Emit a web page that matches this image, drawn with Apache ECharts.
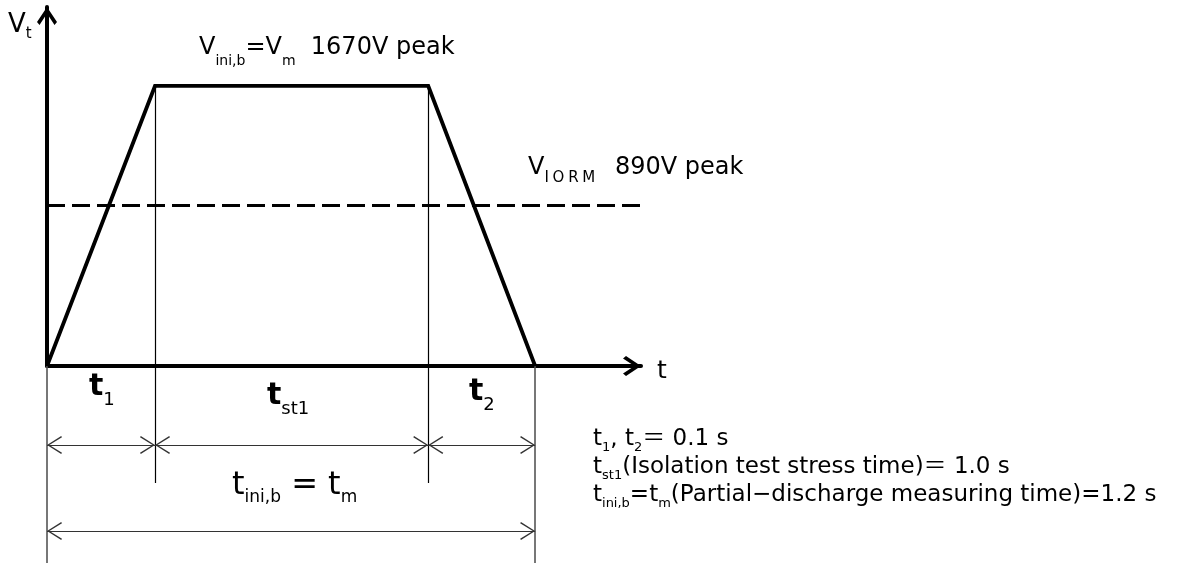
<!DOCTYPE html>
<html>
<head>
<meta charset="utf-8">
<script src="https://cdn.jsdelivr.net/npm/echarts@6/dist/echarts.min.js"></script>
<style>
  html, body { margin: 0; padding: 0; background: #fff; }
  #chart { width: 1181px; height: 563px; }
</style>
</head>
<body>
<div id="chart"></div>
<script>
// ---- data (schematic waveform) ----
// horizontal positions of the waveform corners in diagram units: start, end of t1, end of tst1, end of t2
const timeMarks = [0, 1.0, 3.53, 4.52];
// test voltage at those corners (V peak)
const voltage = [0, 1670, 1670, 0];
// level at which the VIORM (890 V peak) line is drawn in the schematic
const vIormLevel = 960;
// text content
const peakLabel = ['V', 'ini,b', '=V', 'm', '  1670V peak'];
const iormLabel = ['V', 'I\u2005O\u2005R\u2005M', '\u2002 890V peak'];
const noteLines = [
  [['t', 'm'], ['1', 's'], [', t', 'm'], ['2', 's'], ['\uFF1D 0.1 s', 'm']],
  [['t', 'm'], ['st1', 's'], ['(Isolation test stress time)\uFF1D 1.0 s', 'm']],
  [['t', 'm'], ['ini,b', 's'], ['=t', 'm'], ['m', 's'], ['(Partial\u2212discharge measuring time)=1.2 s', 'm']]
];

// ---- layout constants ----
const X_MAX = 5.5;
const Y_MIN = -1175, Y_MAX = 2111;
const ROW1 = -471, ROW2 = -984, TICK_BOTTOM = -698;
const FONT = "'DejaVu Sans','Noto Sans CJK JP',sans-serif";
const CHEV_AXIS = 'path://M10 0 L20 15 L17.5 18 L10 6.5 L2.5 18 L0 15 Z';
const CHEV_DIM = 'path://M9 0 L18 14.2 L16.8 15 L9 2.4 L1.2 15 L0 14.2 Z';

const wave = timeMarks.map((t, i) => [t, voltage[i]]);

function tok(size, weight, pad, lh) {
  const s = { fontSize: size, fontFamily: FONT, fontWeight: weight || 'normal', fill: '#000', verticalAlign: 'top' };
  if (pad) s.padding = [pad, 0, 0, 0];
  if (lh) s.lineHeight = lh;
  return s;
}
function richText(parts) {
  return parts.map(p => '{' + p[1] + '|' + p[0] + '}').join('');
}
function label(x, y, parts, rich) {
  return { type: 'text', x: x, y: y, silent: true, style: { text: richText(parts), rich: rich, align: 'left', verticalAlign: 'top' } };
}

const thinV = { color: '#000', width: 1.2, type: 'solid' };
const outerV = { color: '#555', width: 1.6, type: 'solid' };
const dimStyle = { color: '#333', width: 1.1, type: 'solid' };

function seg(a, b, style) {
  return [{ coord: a, lineStyle: style, symbol: 'none' }, { coord: b, lineStyle: style, symbol: 'none' }];
}
function dim(a, b) {
  return [
    { coord: a, lineStyle: dimStyle, symbol: CHEV_DIM, symbolSize: [18, 15], symbolOffset: [0, 7.5] },
    { coord: b, lineStyle: dimStyle, symbol: CHEV_DIM, symbolSize: [18, 15], symbolOffset: [0, 7.5] }
  ];
}

const chart = echarts.init(document.getElementById('chart'), null, { renderer: 'canvas' });

const option = {
  animation: false,
  backgroundColor: '#fff',
  grid: [
    { left: 47, right: 540, top: 12, bottom: 0 },
    { left: 47, right: 540, top: 7, bottom: 197 }
  ],
  xAxis: [
    {
      gridIndex: 0, type: 'value', min: 0, max: X_MAX,
      axisLine: { show: true, onZero: true, lineStyle: { color: '#000', width: 4 },
        symbol: ['none', CHEV_AXIS], symbolSize: [20, 18], symbolOffset: [0, -9] },
      axisTick: { show: false }, axisLabel: { show: false }, splitLine: { show: false }
    },
    { gridIndex: 1, type: 'value', min: 0, max: X_MAX, show: false }
  ],
  yAxis: [
    { gridIndex: 0, type: 'value', min: Y_MIN, max: Y_MAX, show: false },
    {
      gridIndex: 1, type: 'value', min: 0, max: 1,
      axisLine: { show: true, onZero: true, lineStyle: { color: '#000', width: 4 },
        symbol: ['none', CHEV_AXIS], symbolSize: [20, 18], symbolOffset: [0, -9] },
      axisTick: { show: false }, axisLabel: { show: false }, splitLine: { show: false }
    }
  ],
  series: [
    {
      type: 'line', xAxisIndex: 0, yAxisIndex: 0, data: wave,
      symbol: 'none', showSymbol: false, silent: true, z: 5,
      lineStyle: { color: '#000', width: 3.8, join: 'miter' },
      markLine: {
        silent: true, animation: false, symbol: ['none', 'none'],
        label: { show: false }, emphasis: { disabled: true },
        data: [
          [{ coord: [0, vIormLevel], symbol: 'none', lineStyle: { color: '#000', width: 3.2, type: [18, 7] } },
           { coord: [X_MAX, vIormLevel], symbol: 'none', lineStyle: { color: '#000', width: 3.2, type: [18, 7] } }],
          seg([timeMarks[1], voltage[1]], [timeMarks[1], TICK_BOTTOM], thinV),
          seg([timeMarks[2], voltage[2]], [timeMarks[2], TICK_BOTTOM], thinV),
          seg([timeMarks[0], 0], [timeMarks[0], Y_MIN], outerV),
          seg([timeMarks[3], 0], [timeMarks[3], Y_MIN], outerV),
          dim([timeMarks[0], ROW1], [timeMarks[1], ROW1]),
          dim([timeMarks[1], ROW1], [timeMarks[2], ROW1]),
          dim([timeMarks[2], ROW1], [timeMarks[3], ROW1]),
          dim([timeMarks[0], ROW2], [timeMarks[3], ROW2])
        ]
      }
    }
  ],
  graphic: [
    label(8, 12, [['V', 'm'], ['t', 's']], { m: tok(26), s: tok(15, null, 14.5) }),
    label(199, 36, [[peakLabel[0], 'm'], [peakLabel[1], 's'], [peakLabel[2], 'm'], [peakLabel[3], 's'], [peakLabel[4], 'm']],
      { m: tok(24), s: tok(14, null, 18.5) }),
    label(528, 156, [[iormLabel[0], 'm'], [iormLabel[1], 's'], [iormLabel[2], 'm']],
      { m: tok(24), s: tok(15, null, 14.5) }),
    label(657, 359, [['t', 'm']], { m: tok(25) }),
    label(89, 372, [['t', 'm'], ['1', 's']], { m: tok(30, 'bold'), s: tok(18, null, 19.2) }),
    label(267, 381, [['t', 'm'], ['st1', 's']], { m: tok(30, 'bold'), s: tok(18, null, 19.2) }),
    label(469, 377, [['t', 'm'], ['2', 's']], { m: tok(30, 'bold'), s: tok(18, null, 19.2) }),
    label(232, 470, [['t', 'm'], ['ini,b', 's'], [' = t', 'm'], ['m', 's']], { m: tok(32), s: tok(17, null, 18.7) }),
    {
      type: 'text', x: 593, y: 428, silent: true,
      style: {
        text: noteLines.map(richText).join('\n'),
        rich: { m: tok(23, null, 0, 28), s: tok(13, null, 13.5) },
        align: 'left', verticalAlign: 'top'
      }
    }
  ]
};
chart.setOption(option);
</script>
</body>
</html>
